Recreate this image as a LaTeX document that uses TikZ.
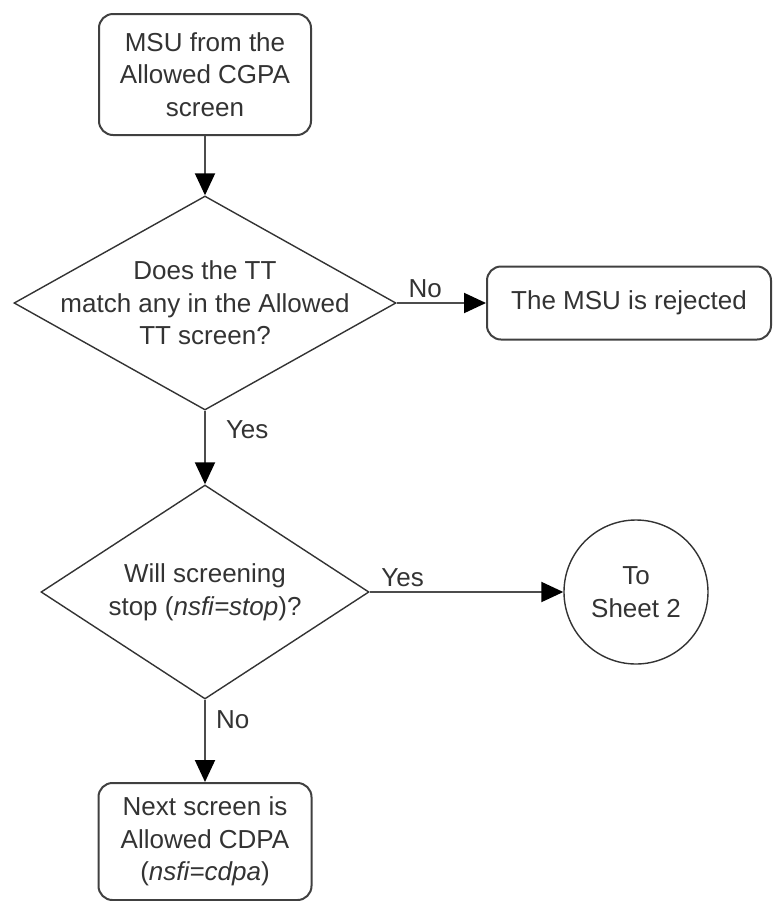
\documentclass[tikz,border=0pt]{standalone}
\usepackage{fontspec}
\setmainfont{Liberation Sans}
\usetikzlibrary{shapes.geometric,arrows.meta}
\tikzset{
	box/.style={draw=black!75,line width=1pt,rounded corners=7pt,align=center,text=black!80},
	ask/.style={diamond,draw=black!80,line width=.7pt,align=center,inner xsep=-40pt,inner ysep=-20pt,text=black!80},
	go/.style={draw=black!70,line width=1pt,-{Triangle[length=11pt,width=10pt,black]}},
	lbl/.style={text=black!80,inner sep=2pt}
}
\begin{document}
\begin{tikzpicture}[x=.5pt,y=-.5pt,font=\fontsize{13}{16.3}\selectfont]
	\useasboundingbox (0,0) rectangle (776,901);
	\node[box,minimum width=106pt,minimum height=60.5pt] (msu) at (205,74.5) {MSU from the\\Allowed CGPA\\screen};
	\node[ask,minimum width=191pt,minimum height=107pt] (q1) at (205,303) {Does the TT\\match any in the Allowed\\TT screen?};
	\node[box,minimum width=142pt,minimum height=36.5pt] (rej) at (629,303) {The MSU is rejected};
	\node[ask,minimum width=164pt,minimum height=107pt] (q2) at (205,592) {Will screening\\stop (\textit{nsfi=stop})?};
	\node[circle,draw=black!80,line width=.7pt,minimum size=72pt,align=center,text=black!80] (sheet) at (636,592) {To\\Sheet 2};
	\node[box,minimum width=106.5pt,minimum height=58.5pt] (next) at (205,841.5) {Next screen is\\Allowed CDPA\\(\textit{nsfi=cdpa})};
	\draw[go] (msu) -- (q1);
	\draw[go] (q1.east) -- node[lbl,above,pos=.32]{No} (rej.west);
	\draw[go] (q1.south) -- node[lbl,right=8pt,pos=.26]{Yes} (q2.north);
	\draw[go] (q2.east) -- node[lbl,above,pos=.17]{Yes} (sheet.west);
	\draw[go] (q2.south) -- node[lbl,right=3pt,pos=.24]{No} (next.north);
\end{tikzpicture}
\end{document}
